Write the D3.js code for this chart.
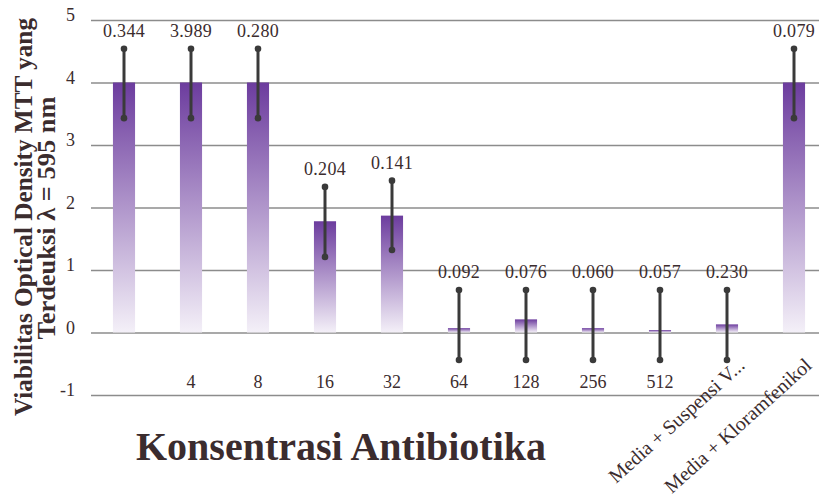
<!DOCTYPE html>
<html>
<title>Viabilitas MTT</title>
<meta charset="UTF-8">
<script type="text/javascript" src="https://d3js.org/d3.v7.min.js"></script>
<style type="text/css">
  body {
    margin: 0;
    background: #fff;
  }
  text {
    font-family: "Liberation Serif", "Times New Roman", serif;
  }
</style>
<body>
  <svg id="viz" width="819" height="499"></svg>
</body>
<script>
  // data
  var categories = ["", "4", "8", "16", "32", "64", "128", "256", "512", "Media + Suspensi V...", "Media + Kloramfenikol"];
  var values = [4, 4, 4, 1.78, 1.87, 0.07, 0.21, 0.07, 0.04, 0.13, 4];
  var errLow = [3.43, 3.43, 3.43, 1.21, 1.32, -0.44, -0.44, -0.44, -0.44, -0.44, 3.43];
  var errHigh = [4.54, 4.54, 4.54, 2.33, 2.43, 0.68, 0.68, 0.68, 0.68, 0.68, 4.54];
  var valueLabels = ["0.344", "3.989", "0.280", "0.204", "0.141", "0.092", "0.076", "0.060", "0.057", "0.230", "0.079"];
  var yTicks = [-1, 0, 1, 2, 3, 4, 5];

  var svg = d3.select("#viz");
  var ink = "#3b2c2e";

  var x = d3.scaleBand()
      .domain(d3.range(categories.length))
      .range([90.5, 827.5])
      .paddingInner(0.67)
      .paddingOuter(0.335);

  var y = d3.scaleLinear()
      .domain([-1, 5])
      .range([395, 20]);

  // gradient for the bars
  var grad = svg.append("defs").append("linearGradient")
      .attr("id", "barGrad")
      .attr("x1", 0).attr("y1", 0).attr("x2", 0).attr("y2", 1);
  grad.append("stop").attr("offset", "0%").attr("stop-color", "#6c3c9e");
  grad.append("stop").attr("offset", "100%").attr("stop-color", "#f4f0f8");

  // gridlines + tick labels
  var yAxis = svg.append("g")
      .attr("transform", "translate(91,0)")
      .call(d3.axisLeft(y).tickValues(yTicks).tickSize(-728).tickFormat(function(d) { return String(d); }));
  yAxis.select(".domain").remove();
  yAxis.selectAll(".tick line")
      .attr("stroke", "#8c8c8c")
      .attr("stroke-width", 1.6);
  yAxis.selectAll(".tick text")
      .attr("x", -16)
      .attr("dy", "0.05em")
      .attr("fill", ink)
      .style("font-size", "18px");

  // bars
  svg.selectAll(".bar")
      .data(values)
      .enter().append("rect")
      .attr("class", "bar")
      .attr("x", function(d, i) { return x(i); })
      .attr("y", function(d) { return y(d); })
      .attr("width", x.bandwidth())
      .attr("height", function(d) { return y(0) - y(d); })
      .attr("fill", "url(#barGrad)");

  // error bars
  var cx = function(i) { return x(i) + x.bandwidth() / 2; };
  var err = svg.append("g").attr("fill", "#3a3a3a").attr("stroke", "#3a3a3a");
  values.forEach(function(v, i) {
    err.append("line")
        .attr("x1", cx(i)).attr("x2", cx(i))
        .attr("y1", y(errLow[i])).attr("y2", y(errHigh[i]))
        .attr("stroke-width", 3);
    err.append("circle").attr("cx", cx(i)).attr("cy", y(errLow[i])).attr("r", 3.3).attr("stroke", "none");
    err.append("circle").attr("cx", cx(i)).attr("cy", y(errHigh[i])).attr("r", 3.3).attr("stroke", "none");
  });

  // value labels
  svg.selectAll(".vlab")
      .data(valueLabels)
      .enter().append("text")
      .attr("class", "vlab")
      .attr("x", function(d, i) { return cx(i); })
      .attr("y", function(d, i) { return y(errHigh[i]) - 12; })
      .attr("text-anchor", "middle")
      .attr("fill", ink)
      .style("font-size", "18px")
      .style("letter-spacing", "0.3px")
      .text(function(d) { return d; });

  // category labels, long ones rotated
  svg.selectAll(".xlab")
      .data(categories)
      .enter().append("text")
      .attr("class", "xlab")
      .attr("fill", ink)
      .style("font-size", function(d) { return d.length > 4 ? "20px" : "18px"; })
      .attr("text-anchor", function(d) { return d.length > 4 ? "end" : "middle"; })
      .attr("transform", function(d, i) {
        if (d.length > 4) return "translate(" + (cx(i) + 19) + ",367) rotate(-42)";
        return "translate(" + cx(i) + ",388)";
      })
      .text(function(d) { return d; });

  // axis titles
  svg.append("text")
      .attr("x", 341)
      .attr("y", 460)
      .attr("text-anchor", "middle")
      .attr("fill", ink)
      .style("font-size", "40px")
      .style("font-weight", "bold")
      .text("Konsentrasi Antibiotika");

  var yTitle = svg.append("g")
      .attr("fill", ink)
      .style("font-size", "26px")
      .style("font-weight", "bold")
      .attr("text-anchor", "middle");
  yTitle.append("text")
      .attr("transform", "translate(32,217) rotate(-90)")
      .attr("textLength", 398)
      .attr("lengthAdjust", "spacingAndGlyphs")
      .text("Viabilitas Optical Density MTT yang");
  yTitle.append("text")
      .attr("transform", "translate(55,218) rotate(-90)")
      .attr("textLength", 243)
      .attr("lengthAdjust", "spacingAndGlyphs")
      .text("Terdeuksi \u03bb = 595 nm");
</script>
</html>
